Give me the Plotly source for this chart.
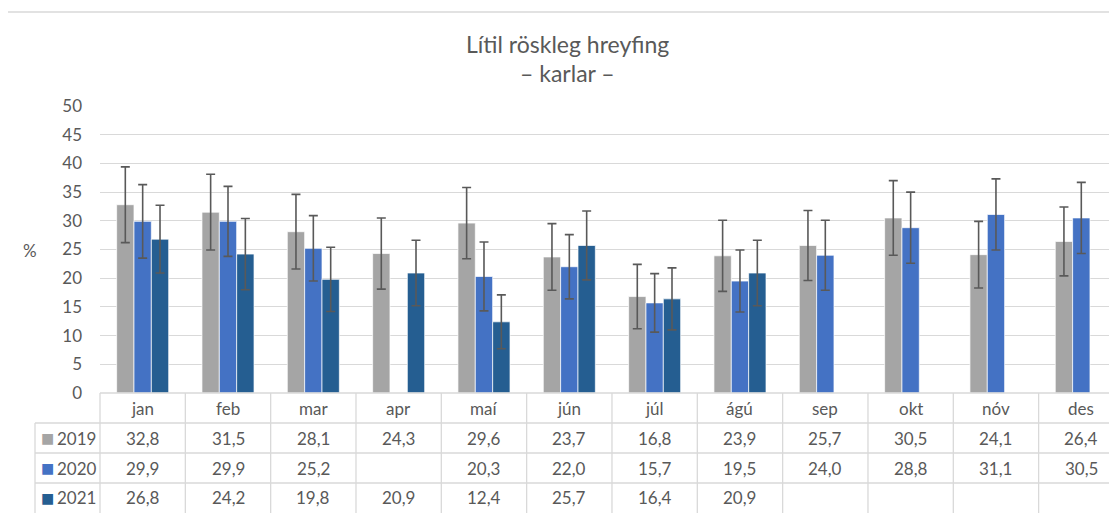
import plotly.graph_objects as go

months = ["jan", "feb", "mar", "apr", "maí", "jún", "júl", "ágú", "sep", "okt", "nóv", "des"]
years = ["2019", "2020", "2021"]
v2019 = [32.8, 31.5, 28.1, 24.3, 29.6, 23.7, 16.8, 23.9, 25.7, 30.5, 24.1, 26.4]
v2020 = [29.9, 29.9, 25.2, None, 20.3, 22.0, 15.7, 19.5, 24.0, 28.8, 31.1, 30.5]
v2021 = [26.8, 24.2, 19.8, 20.9, 12.4, 25.7, 16.4, 20.9, None, None, None, None]
e2019 = [6.6, 6.6, 6.5, 6.2, 6.2, 5.8, 5.6, 6.2, 6.1, 6.5, 5.8, 6.0]
e2020 = [6.4, 6.1, 5.7, None, 6.0, 5.6, 5.1, 5.4, 6.1, 6.2, 6.2, 6.2]
e2021 = [5.9, 6.2, 5.6, 5.7, 4.7, 6.0, 5.4, 5.7, None, None, None, None]
colors = ["#A5A5A5", "#4472C4", "#255E91"]
title_lines = ["Lítil röskleg hreyfing", "– karlar –"]
y_label = "%"

values = [v2019, v2020, v2021]
errors = [e2019, e2020, e2021]

FONT = "Lato, Carlito, Calibri, sans-serif"
TXT = "#595959"
GRID = "#D9D9D9"

# page has an 8px body margin; figure sized to fit the 1117x513 window
W, H = 1109, 505
ML, MR, MT, MB = 92, 0, 98, 120
plot_w = W - ML - MR
plot_h = H - MT - MB
cat_px = 85.33
x_lo = -0.5
x_hi = x_lo + plot_w / cat_px


def py(p):
    # page pixel row -> paper y
    return (393 - p) / plot_h


def px(p):
    # page pixel column -> paper x
    return (p - 100) / plot_w


fig = go.Figure()
for name, vals, errs, col in zip(years, values, errors, colors):
    fig.add_trace(go.Bar(
        x=months, y=vals, name=name,
        marker=dict(color=col, line=dict(color="rgba(255,255,255,0.7)", width=1)),
        error_y=dict(type="data", array=[e if e is not None else 0 for e in errs],
                     visible=True, color="#595959", thickness=1.6, width=4.5),
        showlegend=False, hoverinfo="x+y+name",
    ))

shapes = []
annotations = []
line = dict(color=GRID, width=1.3)
BOTTOM = 530

# outer frame
shapes.append(dict(type="line", xref="paper", yref="paper", x0=px(7), x1=px(7), y0=py(12), y1=py(BOTTOM), line=line))
shapes.append(dict(type="line", xref="paper", yref="paper", x0=px(7), x1=1.05, y0=py(12), y1=py(12), line=line))

# table horizontal lines
shapes.append(dict(type="line", xref="paper", yref="paper", x0=0, x1=1.05, y0=0, y1=0, line=line))
for p in [423, 453, 483]:
    shapes.append(dict(type="line", xref="paper", yref="paper", x0=px(35), x1=1.05, y0=py(p), y1=py(p), line=line))
# legend column left border
shapes.append(dict(type="line", xref="paper", yref="paper", x0=px(35), x1=px(35), y0=py(423), y1=py(BOTTOM), line=line))
# category boundaries
for i in range(len(months) + 1):
    xb = (i - 0.5 - x_lo) / (x_hi - x_lo)
    shapes.append(dict(type="line", xref="paper", yref="paper", x0=xb, x1=xb, y0=0, y1=py(BOTTOM), line=line))

fsz = 17
row_y = [438, 468, 498]
for i, m in enumerate(months):
    annotations.append(dict(x=m, xref="x", y=py(408), yref="paper", text=m, showarrow=False,
                            font=dict(family=FONT, size=fsz, color=TXT), xanchor="center", yanchor="middle"))
    for r, vals in enumerate(values):
        v = vals[i]
        if v is None:
            continue
        annotations.append(dict(x=m, xref="x", y=py(row_y[r]), yref="paper",
                                text=f"{v:.1f}".replace(".", ","), showarrow=False,
                                font=dict(family=FONT, size=fsz, color=TXT), xanchor="center", yanchor="middle"))

for r, (name, col) in enumerate(zip(years, colors)):
    annotations.append(dict(x=px(47.5), xref="paper", y=py(row_y[r]), yref="paper",
                            text="■", showarrow=False,
                            font=dict(family="DejaVu Sans", size=14, color=col), xanchor="center", yanchor="middle"))
    annotations.append(dict(x=px(55), xref="paper", y=py(row_y[r]), yref="paper",
                            text=name, showarrow=False,
                            font=dict(family=FONT, size=fsz, color=TXT), xanchor="left", yanchor="middle"))

annotations.append(dict(x=px(30), xref="paper", y=py(250), yref="paper", text=y_label, showarrow=False,
                        font=dict(family=FONT, size=fsz, color=TXT), xanchor="center", yanchor="middle"))

for t, p in zip(title_lines, [44, 73]):
    annotations.append(dict(x=px(567.5), xref="paper", y=py(p), yref="paper", text=t, showarrow=False,
                            font=dict(family=FONT, size=23, color=TXT), xanchor="center", yanchor="middle"))

fig.update_layout(
    width=W, height=H,
    margin=dict(l=ML, r=MR, t=MT, b=MB, pad=0),
    paper_bgcolor="white", plot_bgcolor="white",
    barmode="group", bargap=0.39, bargroupgap=0,
    font=dict(family=FONT, size=fsz, color=TXT),
    xaxis=dict(range=[x_lo, x_hi], showticklabels=False, showgrid=False, zeroline=False,
               showline=False, ticks=""),
    yaxis=dict(range=[0, 50], dtick=5, showgrid=True, gridcolor=GRID, gridwidth=1.3,
               zeroline=False, showline=False, ticks="", ticklabelstandoff=17,
               tickfont=dict(family=FONT, size=fsz, color=TXT)),
    shapes=shapes, annotations=annotations,
)

fig.write_html("out.html")
